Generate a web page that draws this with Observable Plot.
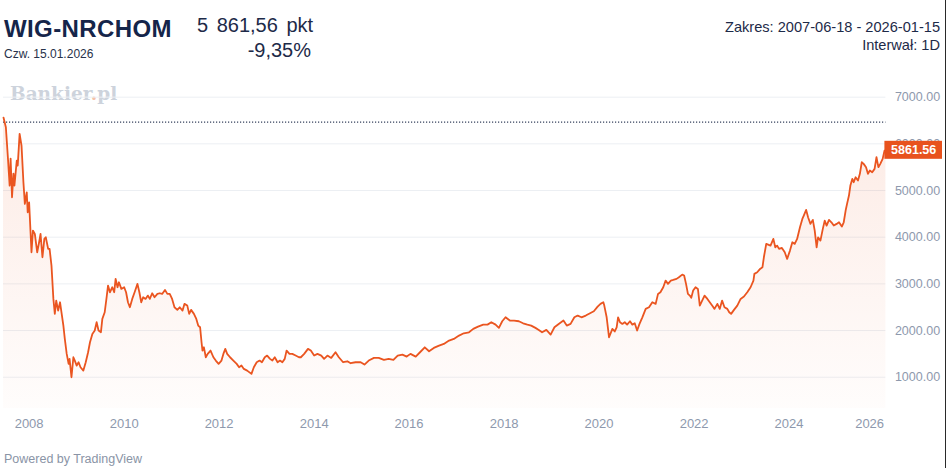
<!DOCTYPE html>
<html>
<head>
<meta charset="utf-8">
<script src="https://cdn.jsdelivr.net/npm/d3@7"></script>
<script src="https://cdn.jsdelivr.net/npm/@observablehq/plot@0.6"></script>
<style>
  html, body { margin: 0; padding: 0; background: #fff; }
  #wrap { position: relative; width: 948px; height: 468px; overflow: hidden; font-family: "Liberation Sans", Arial, sans-serif; }
  .abs { position: absolute; white-space: nowrap; }
  #chart { position: absolute; left: 0; top: 85px; }
</style>
</head>
<body>
<div id="wrap">
  <div class="abs" id="title" style="left:4px; top:15px; font-size:24px; font-weight:bold; color:#15254a; letter-spacing:0.4px;"></div>
  <div class="abs" id="date" style="left:4px; top:47px; font-size:12px; color:#28324a;"></div>
  <div class="abs" id="price" style="left:197px; top:14px; font-size:20px; color:#1d2a48; word-spacing:3px;"></div>
  <div class="abs" id="change" style="right:637px; top:39px; font-size:20px; color:#1d2a48;"></div>
  <div class="abs" id="range" style="right:8px; top:19px; font-size:14.6px; color:#1d2a48; text-align:right;"></div>
  <div class="abs" id="interval" style="right:8px; top:37px; font-size:14.6px; color:#1d2a48; text-align:right;"></div>
  <div class="abs" id="wm" style="left:10px; top:83px; font-family:'DejaVu Serif', serif; font-size:18.5px; font-weight:bold; color:#cdd3dc;"></div>
  <div id="chart"></div>
  <div class="abs" id="powered" style="left:4px; top:452px; font-size:12.5px; color:#8a94a6;"></div>
  <div class="abs" style="left:945px; top:0; width:1.3px; height:468px; background:#2a2a2a;"></div>
</div>
<script>
// ---- texts ----
const titleText = "WIG-NRCHOM";
const dateText = "Czw. 15.01.2026";
const priceText = "5 861,56 pkt";
const changeText = "-9,35%";
const rangeText = "Zakres: 2007-06-18 - 2026-01-15";
const intervalText = "Interwał: 1D";
const poweredText = "Powered by TradingView";

// ---- data (decimal year, index value) ----
const years = [
2007.46,2007.51,2007.55,2007.59,2007.61,2007.64,2007.67,2007.69,2007.74,2007.76,2007.80,2007.84,2007.88,2007.91,2007.95,2007.97,
2008.00,2008.05,2008.08,2008.12,2008.17,2008.21,2008.24,2008.28,2008.32,2008.35,2008.40,2008.43,2008.47,2008.51,2008.54,2008.57,
2008.61,2008.65,2008.68,2008.72,2008.75,2008.79,2008.83,2008.85,2008.89,2008.93,2008.96,2009.00,2009.04,2009.08,2009.14,2009.19,
2009.24,2009.28,2009.33,2009.38,2009.42,2009.46,2009.51,2009.54,2009.59,2009.63,2009.66,2009.70,2009.75,2009.79,2009.82,2009.86,
2009.89,2009.94,2010.00,2010.04,2010.08,2010.12,2010.17,2010.22,2010.28,2010.32,2010.36,2010.40,2010.45,2010.50,2010.54,2010.59,
2010.64,2010.70,2010.75,2010.80,2010.86,2010.91,2010.96,2011.01,2011.06,2011.12,2011.17,2011.23,2011.27,2011.33,2011.37,2011.41,
2011.47,2011.52,2011.56,2011.60,2011.63,2011.65,2011.68,2011.72,2011.76,2011.82,2011.88,2011.93,2011.99,2012.05,2012.09,2012.13,
2012.17,2012.23,2012.30,2012.37,2012.42,2012.47,2012.52,2012.59,2012.68,2012.73,2012.79,2012.85,2012.90,2012.96,2013.01,2013.07,
2013.12,2013.17,2013.23,2013.28,2013.33,2013.38,2013.42,2013.48,2013.54,2013.61,2013.68,2013.72,2013.79,2013.87,2013.93,2014.00,
2014.07,2014.15,2014.21,2014.28,2014.36,2014.45,2014.52,2014.61,2014.70,2014.77,2014.87,2014.98,2015.06,2015.15,2015.26,2015.36,
2015.47,2015.57,2015.67,2015.76,2015.86,2015.95,2016.03,2016.14,2016.23,2016.33,2016.42,2016.52,2016.63,2016.73,2016.84,2016.94,
2017.05,2017.15,2017.26,2017.35,2017.45,2017.56,2017.65,2017.73,2017.82,2017.89,2017.96,2018.03,2018.12,2018.21,2018.31,2018.40,
2018.49,2018.57,2018.66,2018.73,2018.80,2018.89,2018.98,2019.06,2019.15,2019.25,2019.32,2019.40,2019.48,2019.55,2019.63,2019.72,
2019.81,2019.89,2019.97,2020.03,2020.09,2020.11,2020.16,2020.21,2020.28,2020.33,2020.37,2020.40,2020.44,2020.49,2020.54,2020.59,
2020.65,2020.70,2020.75,2020.80,2020.85,2020.91,2020.98,2021.05,2021.12,2021.19,2021.24,2021.29,2021.35,2021.40,2021.45,2021.51,
2021.56,2021.63,2021.68,2021.75,2021.79,2021.83,2021.87,2021.91,2021.94,2021.98,2022.03,2022.08,2022.12,2022.17,2022.22,2022.28,
2022.33,2022.38,2022.43,2022.49,2022.54,2022.59,2022.64,2022.70,2022.74,2022.78,2022.84,2022.91,2022.98,2023.05,2023.12,2023.19,
2023.25,2023.27,2023.33,2023.39,2023.44,2023.47,2023.52,2023.56,2023.61,2023.67,2023.71,2023.75,2023.79,2023.85,2023.91,2023.96,
2024.02,2024.07,2024.12,2024.17,2024.23,2024.28,2024.31,2024.36,2024.40,2024.45,2024.50,2024.54,2024.58,2024.61,2024.66,2024.71,
2024.75,2024.79,2024.84,2024.89,2024.94,2025.00,2025.05,2025.11,2025.15,2025.19,2025.22,2025.26,2025.29,2025.33,2025.36,2025.40,
2025.45,2025.49,2025.53,2025.57,2025.62,2025.66,2025.70,2025.75,2025.80,2025.84,2025.88,2025.92,2025.97,2026.01,2026.04
];
const values = [
6563,6355,5749,5106,5685,4855,5363,5106,5642,5535,6214,5963,5177,4714,4962,4534,
4748,3677,4142,4071,3677,3891,4071,3570,3963,3998,3750,3750,3392,2678,2357,2642,
2428,2606,2392,2106,1821,1500,1286,1393,999,1428,1357,1250,1321,1214,1142,1321,
1535,1749,1928,2000,2178,2000,1963,2250,2392,2713,2963,2820,2928,2820,3107,2928,
3035,2892,2928,2820,2606,2499,2678,2820,3000,2820,2606,2713,2678,2749,2678,2799,
2713,2785,2799,2785,2871,2785,2785,2678,2499,2443,2499,2428,2571,2535,2357,2443,
2357,2250,2106,2070,1749,1571,1641,1428,1500,1571,1428,1357,1286,1357,1500,1607,
1500,1428,1357,1286,1214,1250,1178,1142,1071,1214,1321,1357,1321,1428,1464,1393,
1357,1428,1321,1357,1321,1393,1571,1500,1500,1464,1428,1428,1500,1607,1571,1464,
1500,1464,1393,1464,1414,1535,1428,1321,1342,1300,1321,1321,1271,1357,1414,1414,
1371,1393,1371,1464,1485,1442,1500,1442,1535,1641,1556,1628,1678,1714,1785,1821,
1892,1941,1963,2035,2085,2127,2127,2178,2127,2057,2199,2284,2214,2214,2199,2156,
2127,2106,2057,2014,1963,2014,1913,2070,2142,2214,2106,2142,2284,2321,2284,2321,
2371,2414,2514,2571,2606,2535,2284,1856,2035,1980,2070,2284,2178,2142,2178,2127,
2199,2127,2156,2000,2142,2284,2464,2499,2606,2571,2785,2820,2928,3071,3000,3071,
3085,3107,3142,3199,3178,3000,2785,2749,2700,2856,2928,2892,2535,2642,2749,2678,
2606,2535,2464,2571,2464,2642,2499,2464,2392,2357,2443,2535,2678,2728,2820,2928,
3071,3214,3249,3321,3356,3570,3856,3840,3820,3963,3784,3820,3749,3771,3677,3535,
3713,3891,3856,3963,4213,4392,4463,4585,4427,4285,4371,4142,3784,3998,3927,4178,
4356,4249,4371,4320,4249,4285,4320,4228,4320,4571,4714,4892,5106,5249,5178,5285,
5213,5357,5606,5571,5500,5357,5428,5392,5464,5713,5500,5571,5678,5856,5861.56
];
const yTicks = [1000, 2000, 3000, 4000, 5000, 6000, 7000];
const xTickYears = [2008, 2010, 2012, 2014, 2016, 2018, 2020, 2022, 2024];
const xLastTickYear = [2026];
const refLevel = [6465];
const lastValue = 5861.56;

// ---- build table ----
function decYearToDate(t) {
  const y = Math.floor(t);
  const a = Date.UTC(y, 0, 1), b = Date.UTC(y + 1, 0, 1);
  return new Date(a + (t - y) * (b - a));
}
const series = years.map((t, i) => ({ date: decYearToDate(t), value: values[i] }));
const startDate = new Date(Date.UTC(2007, 5, 18));
const endDate = new Date(Date.UTC(2026, 0, 15));
series[0].date = startDate;
series[series.length - 1].date = endDate;
const yearDate = (y) => new Date(Date.UTC(y, 0, 1));

document.getElementById("title").textContent = titleText;
document.getElementById("date").textContent = dateText;
document.getElementById("price").textContent = priceText;
document.getElementById("change").textContent = changeText;
document.getElementById("range").textContent = rangeText;
document.getElementById("interval").textContent = intervalText;
document.getElementById("wm").innerHTML = 'Bankier<span style="color:#f5c2a8">.</span>pl';
document.getElementById("powered").textContent = poweredText;

const lineColor = "#ea5520";
const axisColor = "#8e99ad";

const plot = Plot.plot({
  width: 948,
  height: 360,
  marginLeft: 3,
  marginRight: 62.6,
  marginTop: 0,
  marginBottom: 37,
  style: { fontFamily: "'Liberation Sans', Arial, sans-serif", background: "transparent", overflow: "visible" },
  x: { type: "utc", domain: [startDate, endDate] },
  y: { domain: [330, 7250] },
  marks: [
    Plot.gridY(yTicks, { stroke: "#eceff3", strokeOpacity: 1, strokeWidth: 1 }),
    Plot.areaY(series, { x: "date", y: "value", y1: 330, fill: "url(#areaGrad)" }),
    Plot.ruleY(refLevel, { stroke: "#34405c", strokeWidth: 1.2, strokeDasharray: "1.2,1.8" }),
    Plot.lineY(series, { x: "date", y: "value", stroke: lineColor, strokeWidth: 1.8, strokeLinejoin: "round" }),
    Plot.axisY(yTicks, { anchor: "right", tickSize: 0, tickPadding: 9, tickFormat: d3.format(".2f"), fontSize: 12.5, fill: axisColor, label: null }),
    Plot.axisX(xTickYears.map(yearDate), { anchor: "bottom", tickSize: 0, tickPadding: 10.5, tickFormat: d3.utcFormat("%Y"), fontSize: 13, fill: axisColor, label: null }),
    Plot.axisX(xLastTickYear.map(yearDate), { anchor: "bottom", tickSize: 0, tickPadding: 10.5, tickFormat: d3.utcFormat("%Y"), fontSize: 13, fill: axisColor, textAnchor: "end", label: null })
  ]
});

// gradient for the area fill
const svg = d3.select(plot);
const defs = svg.insert("defs", ":first-child");
const grad = defs.append("linearGradient").attr("id", "areaGrad")
  .attr("gradientUnits", "userSpaceOnUse").attr("x1", 0).attr("x2", 0).attr("y1", 0).attr("y2", 323);
grad.append("stop").attr("offset", "0%").attr("stop-color", lineColor).attr("stop-opacity", 0.13);
grad.append("stop").attr("offset", "100%").attr("stop-color", lineColor).attr("stop-opacity", 0.015);

// last price label on the right scale
const yS = plot.scale("y"), xS = plot.scale("x");
const ly = yS.apply(lastValue);
const lx = xS.apply(endDate) - 1;
const g = svg.append("g");
g.append("rect").attr("x", lx).attr("y", ly - 9).attr("width", 942 - lx).attr("height", 18).attr("fill", "#e8521d");
g.append("text").attr("x", (lx + 942) / 2 + 0.5).attr("y", ly).attr("dy", "0.36em")
  .attr("text-anchor", "middle")
  .attr("fill", "#fff").attr("font-size", 12.5).attr("font-weight", "bold")
  .attr("font-family", "'Liberation Sans', Arial, sans-serif").text(d3.format(".2f")(lastValue));

document.getElementById("chart").appendChild(plot);
</script>
</body>
</html>
